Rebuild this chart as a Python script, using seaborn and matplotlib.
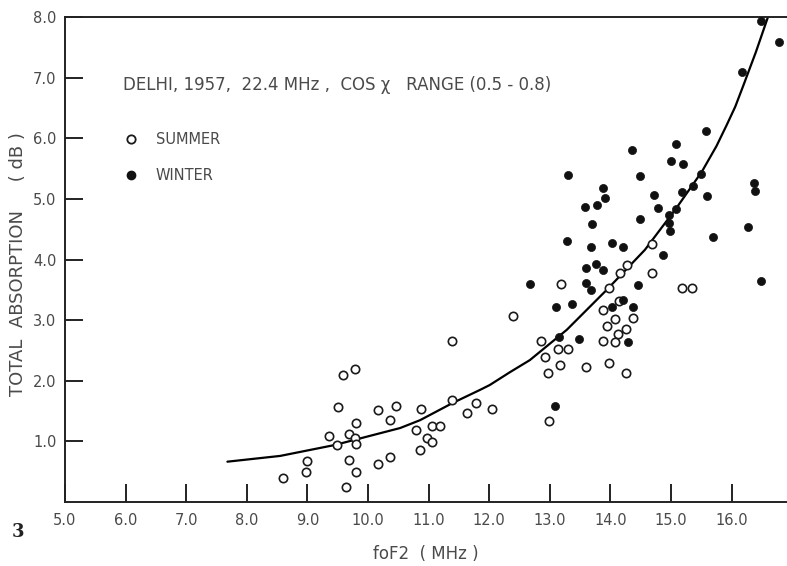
import matplotlib
matplotlib.use("Agg")
import matplotlib.pyplot as plt
import seaborn as sns
import pandas as pd
from matplotlib.lines import Line2D

# ---- data ----
summer_fof2 = [8.60, 8.99, 8.98, 9.36, 9.49, 9.51, 9.64, 9.68, 9.68, 9.79, 9.80, 9.81, 9.81,
               9.58, 9.79, 10.17, 10.17, 10.37, 10.37, 10.47, 10.88, 10.80, 10.97, 11.05,
               11.18, 11.06, 10.86, 11.39, 11.39, 11.63, 11.78, 12.04, 12.99, 12.39, 13.18,
               14.27, 14.16, 14.68, 13.97, 15.18, 15.35, 14.15, 13.87, 14.07, 14.38, 13.94,
               14.26, 14.13, 14.08, 13.87, 12.86, 13.14, 13.30, 12.92, 13.17, 12.97, 13.60,
               13.98, 14.26, 14.68]
summer_abs = [0.40, 0.68, 0.50, 1.09, 0.94, 1.56, 0.25, 0.69, 1.12, 1.06, 0.95, 1.30, 0.50,
              2.10, 2.19, 1.52, 0.63, 1.35, 0.75, 1.58, 1.54, 1.18, 1.06, 1.25,
              1.25, 0.99, 0.86, 2.65, 1.69, 1.46, 1.63, 1.54, 1.34, 3.06, 3.60,
              3.91, 3.78, 3.77, 3.53, 3.53, 3.53, 3.32, 3.17, 3.02, 3.04, 2.91,
              2.85, 2.77, 2.64, 2.66, 2.66, 2.52, 2.52, 2.39, 2.26, 2.13, 2.23,
              2.29, 2.13, 4.26]

winter_fof2 = [13.09, 12.68, 13.76, 13.59, 13.87, 13.59, 13.68, 14.87, 14.46, 13.11, 13.36,
               14.21, 14.03, 14.38, 13.16, 13.48, 14.29, 15.58, 15.08, 14.36, 15.00, 15.20,
               13.30, 14.49, 15.50, 15.37, 15.18, 15.59, 13.87, 13.91, 13.78, 13.58, 14.72,
               14.79, 15.09, 14.96, 14.97, 14.98, 14.49, 13.70, 16.37, 16.39, 16.27, 15.69,
               13.28, 13.68, 14.02, 14.20, 16.49, 16.48, 16.78, 16.17]
winter_abs = [1.58, 3.60, 3.93, 3.86, 3.82, 3.61, 3.49, 4.08, 3.58, 3.22, 3.27,
              3.33, 3.21, 3.21, 2.72, 2.69, 2.64, 6.12, 5.90, 5.81, 5.62, 5.57,
              5.40, 5.37, 5.41, 5.22, 5.12, 5.04, 5.18, 5.01, 4.90, 4.86, 5.06,
              4.85, 4.84, 4.74, 4.60, 4.47, 4.66, 4.58, 5.26, 5.13, 4.54, 4.37,
              4.31, 4.21, 4.27, 4.20, 3.64, 7.94, 7.59, 7.10]

curve_fof2 = [7.68, 8.55, 9.45, 10.53, 10.86, 11.39, 11.85, 12.01, 12.34, 12.67, 13.28,
              13.94, 14.57, 15.09, 15.51, 15.75, 15.92, 16.06, 16.19, 16.40, 16.60]
curve_abs = [0.665, 0.76, 0.94, 1.22, 1.35, 1.63, 1.85, 1.93, 2.14, 2.34, 2.84,
             3.50, 4.16, 4.85, 5.45, 5.87, 6.22, 6.52, 6.86, 7.42, 8.00]

x_ticks = [5.0, 6.0, 7.0, 8.0, 9.0, 10.0, 11.0, 12.0, 13.0, 14.0, 15.0, 16.0]
y_ticks = [1.0, 2.0, 3.0, 4.0, 5.0, 6.0, 7.0, 8.0]

title_text = "DELHI, 1957,  22.4 MHz ,  COS χ   RANGE (0.5 - 0.8)"
legend_labels = ["SUMMER", "WINTER"]

# ---- plotting ----
sns.set_theme(style="white")
plt.rcParams['font.family'] = ['DejaVu Sans']
TXT = '#4a4a4a'

W, H = 787, 566
fig = plt.figure(figsize=(W / 100, H / 100), dpi=100)
left, bottom, top = 65, 502, 17
ax = fig.add_axes([left / W, 1 - bottom / H, (W - left) / W, (bottom - top) / H])

ppu = 60.6
ax.set_xlim(5.0, 5.0 + (W - left) / ppu)
ax.set_ylim(0, 8.0)

curve_df = pd.DataFrame({"x": curve_fof2, "y": curve_abs})
sns.lineplot(data=curve_df, x="x", y="y", ax=ax, color='black', lw=1.6,
             sort=False, estimator=None)

sdf = pd.DataFrame({"x": summer_fof2, "y": summer_abs})
wdf = pd.DataFrame({"x": winter_fof2, "y": winter_abs})
sns.scatterplot(data=sdf, x="x", y="y", ax=ax, marker='o', s=36,
                facecolor='white', edgecolor='#1a1a1a', linewidth=1.2, zorder=3)
sns.scatterplot(data=wdf, x="x", y="y", ax=ax, marker='o', s=34,
                color='#111111', edgecolor='#111111', linewidth=0.5, zorder=3)

ax.spines['right'].set_visible(False)
for s in ['left', 'bottom', 'top']:
    ax.spines[s].set_color('#222222')
    ax.spines[s].set_linewidth(1.4)

ax.set_xticks(x_ticks)
ax.set_xticklabels([f"{v:.1f}" for v in x_ticks])
ax.set_yticks(y_ticks)
ax.set_yticklabels([f"{v:.1f}" for v in y_ticks])
ax.tick_params(axis='both', direction='in', length=13, width=1.4, color='#222222',
               labelsize=10.5, labelcolor=TXT)
ax.tick_params(axis='x', pad=8, bottom=True)
ax.tick_params(axis='y', pad=6, left=True)

ax.set_xlabel("foF2  ( MHz )", fontsize=12, color=TXT, labelpad=12)
ax.set_ylabel("TOTAL  ABSORPTION     ( dB )", fontsize=13, color=TXT)
ax.yaxis.set_label_coords(-0.053, 0.49)

fig.text(123 / W, 1 - 85 / H, title_text, fontsize=12, color=TXT, ha='left', va='center')

handles = [Line2D([], [], ls='none', marker='o', markersize=6, markerfacecolor='white',
                  markeredgecolor='#1a1a1a', markeredgewidth=1.3),
           Line2D([], [], ls='none', marker='o', markersize=6, markerfacecolor='#111111',
                  markeredgecolor='#111111')]
leg = ax.legend(handles, legend_labels, loc='upper left',
                bbox_to_anchor=(118 / W, 1 - 125 / H), bbox_transform=fig.transFigure,
                frameon=False, handlelength=0.8, handletextpad=1.3, labelspacing=1.4,
                fontsize=10.5, borderpad=0)
for t in leg.get_texts():
    t.set_color(TXT)

fig.text(18 / W, 1 - 532 / H, "3", fontsize=13, fontweight='bold', family='DejaVu Serif',
         color='#222222', ha='center', va='center')

fig.savefig("out.png", dpi=100)
